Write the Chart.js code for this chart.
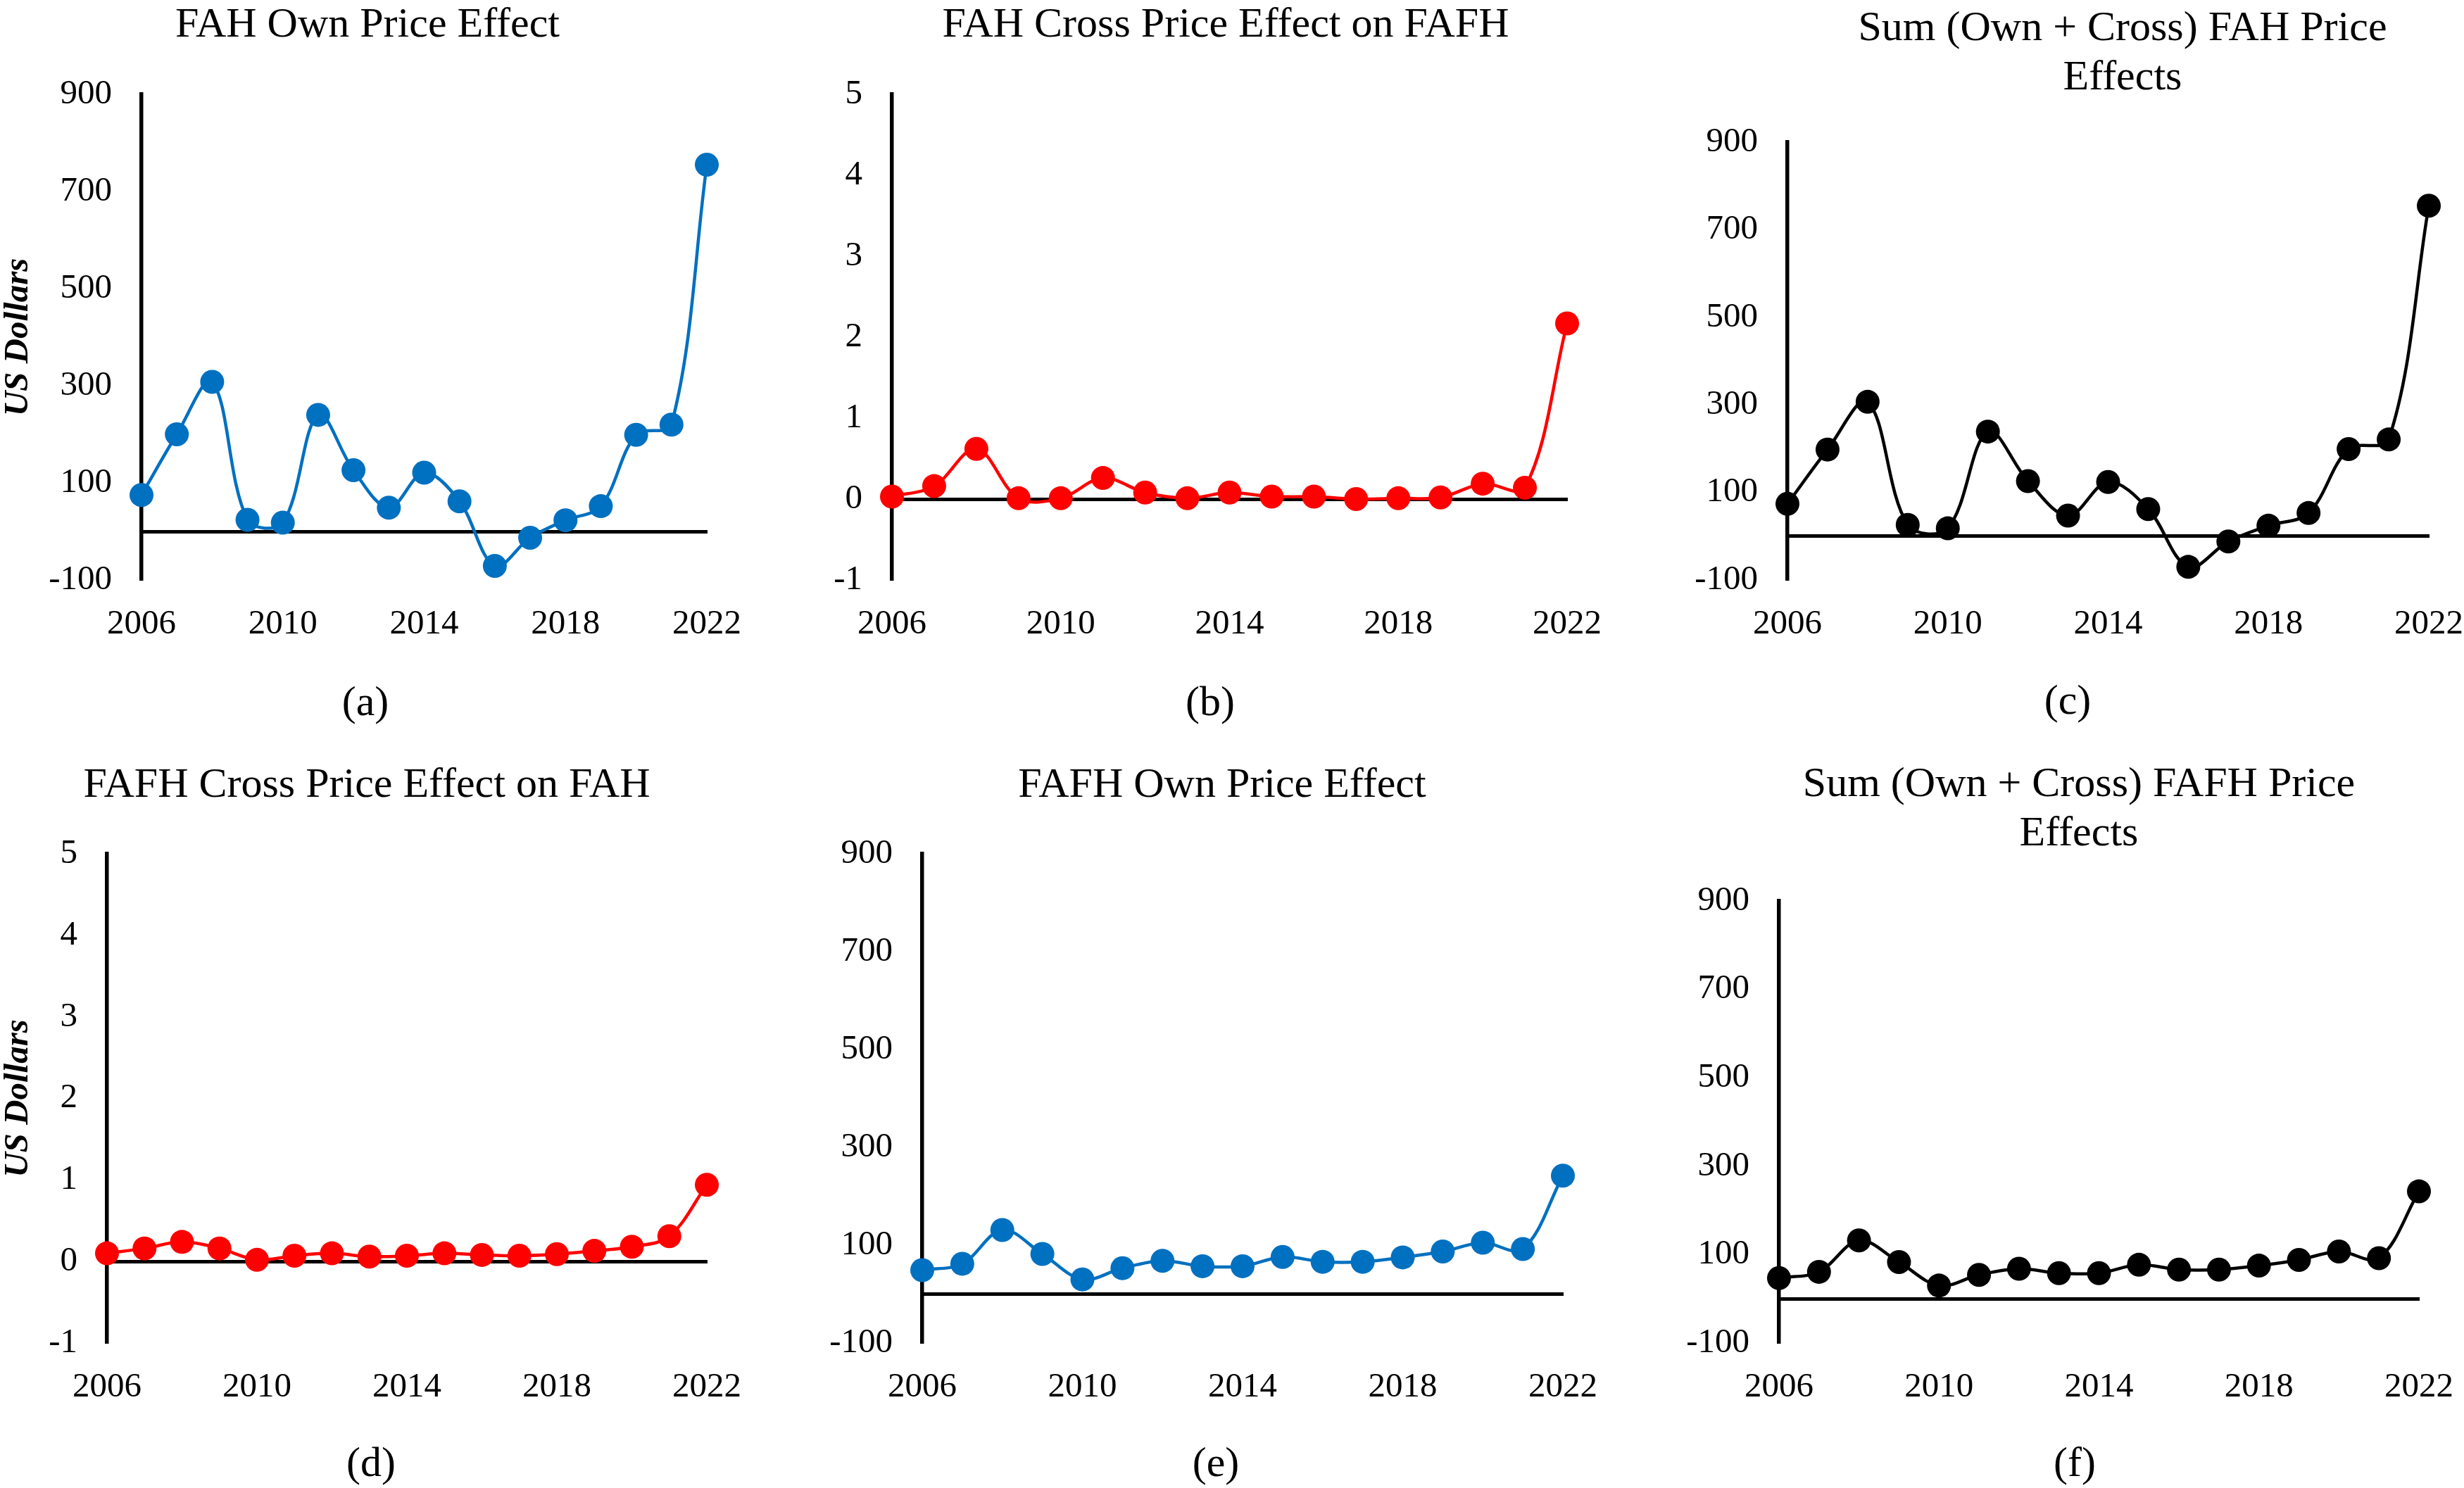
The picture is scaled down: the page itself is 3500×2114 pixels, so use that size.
<!DOCTYPE html>
<html><head><meta charset="utf-8">
<script src="https://cdn.jsdelivr.net/npm/chart.js@4.4.1/dist/chart.umd.min.js"></script>
<style>
html,body{margin:0;padding:0;background:#fff;}
#stage{position:relative;width:3500px;height:2114px;overflow:hidden;background:#fff;font-family:'Liberation Serif','Times New Roman',serif;color:#000;}
#stage canvas{position:absolute;}
.t{position:absolute;transform:translate(-50%,-50%);white-space:nowrap;text-align:center;font-size:60px;line-height:70px;}
</style></head><body><div id="stage"></div>
<script>
// ---- data ----
const years = [2006,2007,2008,2009,2010,2011,2012,2013,2014,2015,2016,2017,2018,2019,2020,2021,2022];
const xTickYears = [2006,2010,2014,2018,2022];
const dollarTicks = [-100,100,300,500,700,900];
const unitTicks = [-1,0,1,2,3,4,5];

const fahOwn    = [75,200,308,24,18,240,126,49,121,62,-71,-13,23,52,199,220,755];
const fahCross  = [0.03,0.16,0.62,0.01,0.01,0.26,0.08,0.01,0.08,0.03,0.03,0.00,0.01,0.02,0.19,0.14,2.17];
const fahSum    = [74,198,307,26,18,239,126,47,124,62,-70,-12,24,53,199,221,755];
const fafhCross = [0.10,0.16,0.24,0.16,0.02,0.07,0.10,0.06,0.07,0.10,0.08,0.07,0.09,0.13,0.18,0.31,0.94];
const fafhOwn   = [49,62,131,82,30,53,68,57,57,76,66,66,75,87,105,92,242];
const fafhSum   = [47,61,132,83,30,54,68,58,58,77,66,66,75,88,107,92,243];

const titles = ['FAH Own Price Effect','FAH Cross Price Effect on FAFH','Sum (Own + Cross) FAH Price<br>Effects',
                'FAFH Cross Price Effect on FAH','FAFH Own Price Effect','Sum (Own + Cross) FAFH Price<br>Effects'];
const captions = ['(a)','(b)','(c)','(d)','(e)','(f)'];
const yAxisTitle = 'US Dollars';

// ---- layout ----
const FONT = "'Liberation Serif','Times New Roman',serif";
const PT = 80, PR = 95, XH = 120;
const BLUE = '#0070C0', RED = '#FF0000', BLACK = '#000000';
const stage = document.getElementById('stage');

const panels = [
  {values:fahOwn,   ticks:dollarTicks, color:BLUE,  L:201,  R:1004, T:134,  B:824,  yTitle:true,  tx:522,  ty:32,   cx:519,  cy:996},
  {values:fahCross, ticks:unitTicks,   color:RED,   L:1267, R:2226, T:134,  B:824,  yTitle:false, tx:1741, ty:32,   cx:1719, cy:996},
  {values:fahSum,   ticks:dollarTicks, color:BLACK, L:2539, R:3450, T:202,  B:824,  yTitle:false, tx:3015, ty:72,   cx:2937, cy:994},
  {values:fafhCross,ticks:unitTicks,   color:RED,   L:152,  R:1004, T:1213, B:1908, yTitle:true,  tx:521,  ty:1112, cx:527,  cy:2077},
  {values:fafhOwn,  ticks:dollarTicks, color:BLUE,  L:1310, R:2220, T:1213, B:1908, yTitle:false, tx:1736, ty:1112, cx:1727, cy:2077},
  {values:fafhSum,  ticks:dollarTicks, color:BLACK, L:2527, R:3436, T:1280, B:1908, yTitle:false, tx:2953, ty:1146, cx:2947, cy:2077}
];

function addText(html, x, y){
  const d = document.createElement('div');
  d.className = 't';
  d.innerHTML = html;
  d.style.left = x + 'px';
  d.style.top = y + 'px';
  stage.appendChild(d);
}

panels.forEach((p, k) => {
  const yw = p.yTitle ? p.L : 170;
  const left = p.L - yw, top = p.T - PT;
  const w = (p.R - p.L) + yw + PR, h = (p.B - p.T) + PT + XH;
  const c = document.createElement('canvas');
  c.width = w; c.height = h;
  c.style.left = left + 'px'; c.style.top = top + 'px';
  c.style.width = w + 'px'; c.style.height = h + 'px';
  stage.appendChild(c);
  const tickFont = {family: FONT, size: 49, lineHeight: 1.2};
  new Chart(c, {
    type: 'line',
    data: {datasets: [{
      data: years.map((yr, i) => ({x: yr, y: p.values[i]})),
      borderColor: p.color, backgroundColor: p.color,
      borderWidth: 4.5, pointRadius: 17, pointHoverRadius: 17, pointBorderWidth: 0,
      tension: 0.35, clip: false, xAxisID: 'x', yAxisID: 'y'
    }]},
    options: {
      responsive: false, devicePixelRatio: 1, animation: false, events: [],
      layout: {padding: {left: 0, top: PT, right: PR, bottom: 0}},
      plugins: {legend: {display: false}, tooltip: {enabled: false}, title: {display: false}},
      scales: {
        x: {
          type: 'linear', position: 'bottom', min: years[0], max: years[years.length - 1],
          grid: {display: false}, border: {display: false},
          afterBuildTicks: s => { s.ticks = xTickYears.map(v => ({value: v})); },
          afterFit: s => { s.height = XH; },
          ticks: {font: tickFont, color: '#000', padding: 26, maxRotation: 0, autoSkip: false, callback: v => String(v)}
        },
        x0: {
          type: 'linear', display: true, position: {y: 0}, min: years[0], max: years[years.length - 1],
          grid: {display: false}, border: {display: true, color: '#000', width: 5},
          ticks: {display: false}
        },
        y: {
          type: 'linear', position: 'left', min: p.ticks[0], max: p.ticks[p.ticks.length - 1],
          grid: {display: false, drawTicks: false}, border: {display: true, color: '#000', width: 5.5},
          afterBuildTicks: s => { s.ticks = p.ticks.map(v => ({value: v})); },
          afterFit: s => { s.width = yw; },
          ticks: {font: tickFont, color: '#000', padding: 42, autoSkip: false, callback: v => String(v)},
          title: {display: p.yTitle, text: yAxisTitle, color: '#000',
                  font: {family: FONT, size: 49, style: 'italic', weight: 'bold', lineHeight: 1},
                  padding: {top: 2, bottom: 0}}
        }
      }
    }
  });
  addText(titles[k], p.tx, p.ty);
  addText(captions[k], p.cx, p.cy);
});
</script>
</body></html>
